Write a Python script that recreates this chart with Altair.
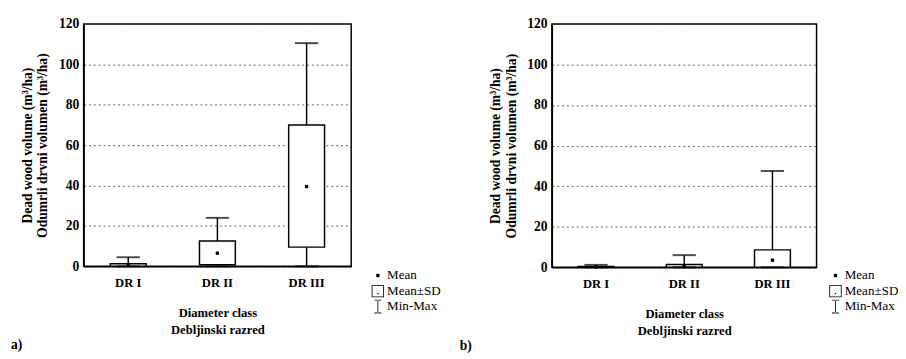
import altair as alt
import pandas as pd

classes = ["DR I", "DR II", "DR III"]

# panel a)
a_mean = [0.5, 6.5, 39.5]
a_low = [0.0, 0.8, 9.5]
a_high = [1.3, 12.5, 70.0]
a_min = [0.0, 0.0, 0.0]
a_max = [4.5, 24.0, 110.5]

# panel b)
b_mean = [0.2, 0.8, 3.5]
b_low = [0.0, 0.0, 0.0]
b_high = [0.4, 1.4, 8.6]
b_min = [0.0, 0.0, 0.0]
b_max = [1.2, 6.0, 47.5]

legend_items = ["Mean", "Mean±SD", "Min-Max"]
y_ticks = [0, 20, 40, 60, 80, 100, 120]
y_title = ["Dead wood volume (m³/ha)", "Odumrli drvni volumen (m³/ha)"]
x_title = ["Diameter class", "Debljinski razred"]

FONT = "Liberation Serif"

symbol_paths = [
    "M-0.24,-0.24H0.24V0.24H-0.24Z",
    "M-0.9,-0.9H0.9V0.9H-0.9Z M-0.78,-0.78V0.78H0.78V-0.78Z M-0.1,0.3H0.1V0.48H-0.1Z",
    "M-0.5,-1H0.5V-0.88H-0.5Z M-0.06,-1V1H0.06V-1Z M-0.5,0.88H0.5V1H-0.5Z",
]


def panel(mean, low, high, mn, mx, tag, legend_x, legend_y, w, h, tag_dx):
    df = pd.DataFrame({
        "cls": classes, "mean": mean, "low": low, "high": high,
        "mn": mn, "mx": mx, "series": ["Mean"] * len(classes),
    })
    x = alt.X("cls:N", sort=classes,
              scale=alt.Scale(paddingInner=0, paddingOuter=0),
              axis=alt.Axis(title=x_title, labelAngle=0, ticks=False,
                            labelPadding=11, titlePadding=18,
                            labelFont=FONT, titleFont=FONT,
                            labelFontSize=13, titleFontSize=13,
                            labelFontWeight="bold", titleFontWeight="bold",
                            labelColor="black", titleColor="black",
                            titleLineHeight=17, domainColor="black",
                            domainWidth=1.5))

    def Y(field):
        return alt.Y(f"{field}:Q",
                     scale=alt.Scale(domain=[0, 120], nice=False, zero=True),
                     axis=alt.Axis(title=y_title, values=y_ticks, grid=True,
                                   gridDash=[2, 3], gridColor="#333333",
                                   gridWidth=0.8, ticks=False, labelPadding=5,
                                   titlePadding=9,
                                   labelFont=FONT, titleFont=FONT,
                                   labelFontSize=14, titleFontSize=14,
                                   labelFontWeight="bold",
                                   titleFontWeight="bold",
                                   labelColor="black", titleColor="black",
                                   titleLineHeight=16, domainColor="black",
                                   domainWidth=1.5))

    base = alt.Chart(df)
    rule = base.mark_rule(color="black", strokeWidth=1.5).encode(
        x=x, y=Y("mn"), y2="mx:Q")
    box = base.mark_bar(fill="white", stroke="black", strokeWidth=1.5,
                        width=37).encode(x=x, y=Y("low"), y2="high:Q")
    cap_top = base.mark_tick(color="black", thickness=2, size=24).encode(
        x=x, y=Y("mx"))
    cap_bot = base.mark_tick(color="black", thickness=2, size=24).encode(
        x=x, y=Y("mn"))
    pts = base.mark_point(filled=True, size=200, color="black",
                          opacity=1).encode(
        x=x, y=Y("mean"),
        shape=alt.Shape("series:N",
                        scale=alt.Scale(domain=legend_items,
                                        range=symbol_paths),
                        legend=alt.Legend(
                            title=None, orient="none",
                            legendX=legend_x, legendY=legend_y,
                            symbolFillColor="black", symbolStrokeWidth=0,
                            symbolStrokeColor="black",
                            symbolSize=200, symbolOpacity=1,
                            labelFont=FONT, labelFontSize=13.5,
                            labelColor="black", labelOffset=2,
                            rowPadding=2, padding=0)))
    return alt.layer(rule, box, cap_top, cap_bot, pts).properties(
        width=w, height=h,
        title=alt.TitleParams(tag, orient="bottom", anchor="start",
                              frame="bounds", font=FONT, fontSize=14,
                              fontWeight="bold", offset=2, dx=tag_dx))


pa = panel(a_mean, a_low, a_high, a_min, a_max, "a)", 296, 252, 276, 250, -10)
pb = panel(b_mean, b_low, b_high, b_min, b_max, "b)", 285, 252, 273, 251, -30)

chart = alt.hconcat(pa, pb, spacing=17).resolve_scale(
    shape="independent").resolve_legend(shape="independent").configure_view(
    stroke="black", strokeWidth=1.5).properties(
    padding={"left": 2, "top": 3, "right": -2, "bottom": -4})

chart.save("out.html", embed_options={"renderer": "svg", "actions": False})
